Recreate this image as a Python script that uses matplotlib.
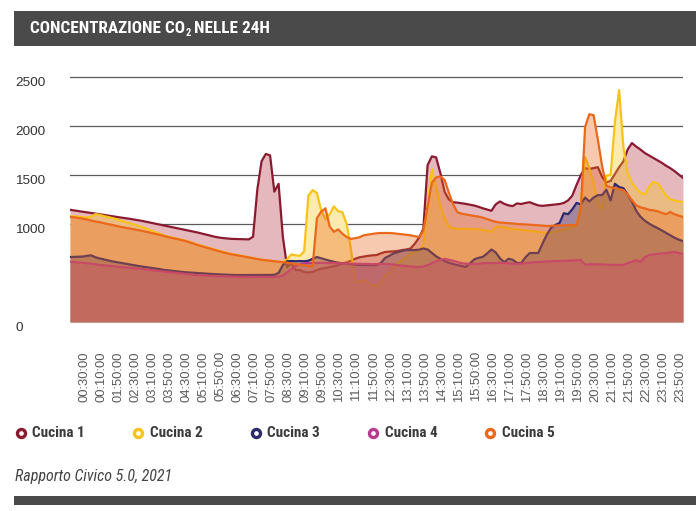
import numpy as np
import matplotlib
matplotlib.use('Agg')
import matplotlib.pyplot as plt
from matplotlib import transforms, font_manager
from matplotlib.font_manager import FontProperties
from matplotlib.lines import Line2D
from matplotlib.patches import Rectangle

plt.rcParams['font.family'] = ['Liberation Sans', 'DejaVu Sans']

# CO2 (ppm), one value every 10 minutes
cucina1 = [
    1145, 1138, 1132, 1125, 1119, 1112, 1106, 1099, 1092, 1086,
    1079, 1072, 1066, 1059, 1053, 1046, 1040, 1031, 1022, 1013,
    1004, 995, 986, 977, 967, 958, 949, 940, 931, 922,
    913, 902, 890, 880, 870, 862, 856, 852, 848, 847,
    845, 845, 843, 870, 1350, 1640, 1715, 1700, 1330, 1410,
    870, 560, 600, 530, 530, 510, 505, 510, 530, 545,
    550, 560, 570, 580, 595, 610, 625, 645, 660, 668,
    675, 680, 683, 700, 714, 718, 720, 725, 734, 740,
    750, 800, 860, 950, 1600, 1690, 1680, 1520, 1330, 1250,
    1222, 1218, 1212, 1205, 1196, 1188, 1175, 1160, 1148, 1135,
    1200, 1230, 1206, 1190, 1183, 1210, 1204, 1215, 1222, 1205,
    1190, 1185, 1190, 1195, 1200, 1204, 1215, 1240, 1290, 1400,
    1500, 1570, 1562, 1570, 1580, 1480, 1425, 1440, 1510, 1580,
    1640, 1760, 1826, 1790, 1760, 1725, 1700, 1675, 1650, 1625,
    1595, 1570, 1540, 1505, 1470]
cucina2 = [
    1081, 1078, 1075, 1070, 1066, 1075, 1101, 1092, 1080, 1071,
    1060, 1048, 1035, 1022, 1008, 995, 982, 968, 952, 935,
    918, 900, 885, 872, 862, 852, 842, 832, 820, 805,
    790, 777, 765, 752, 740, 727, 715, 704, 694, 686,
    678, 670, 662, 652, 643, 636, 630, 625, 620, 616,
    612, 640, 690, 680, 675, 720, 1290, 1346, 1316, 1140,
    1050, 1100, 1180, 1130, 1120, 1000, 740, 410, 410, 425,
    400, 375, 365, 400, 470, 505, 560, 600, 630, 660,
    695, 712, 730, 790, 1200, 1560, 1380, 1180, 1060, 975,
    955, 952, 950, 950, 950, 948, 945, 940, 930, 918,
    970, 975, 962, 955, 949, 945, 940, 935, 930, 925,
    920, 915, 910, 915, 922, 930, 945, 955, 965, 985,
    1200, 1683, 1570, 1400, 1220, 1150, 1495, 1500, 2040, 2366,
    1785, 1520, 1420, 1360, 1320, 1300, 1380, 1428, 1418, 1360,
    1290, 1255, 1240, 1230, 1224]
cucina3 = [
    663, 664, 666, 668, 675, 680, 660, 648, 638, 628,
    618, 610, 602, 595, 588, 580, 572, 566, 559, 552,
    546, 540, 532, 527, 522, 517, 512, 508, 505, 502,
    500, 497, 494, 491, 488, 486, 484, 482, 480, 479,
    479, 478, 478, 478, 478, 478, 479, 480, 482, 500,
    580, 620, 622, 620, 622, 620, 625, 645, 663, 650,
    636, 625, 615, 605, 600, 595, 590, 585, 582, 581,
    580, 580, 581, 600, 653, 675, 700, 712, 725, 734,
    734, 734, 738, 750, 740, 705, 670, 645, 622, 605,
    593, 581, 572, 562, 600, 640, 655, 665, 700, 740,
    710, 650, 610, 645, 635, 602, 602, 660, 704, 704,
    704, 800, 890, 960, 990, 1010, 1110, 1100, 1150, 1215,
    1200, 1270, 1230, 1270, 1295, 1295, 1350, 1240, 1410, 1377,
    1365, 1300, 1230, 1135, 1075, 1035, 1005, 980, 959, 935,
    910, 885, 860, 840, 826]
cucina4 = [
    615, 612, 608, 604, 600, 595, 590, 582, 578, 574,
    570, 566, 562, 558, 554, 550, 546, 541, 536, 530,
    525, 520, 514, 510, 505, 500, 495, 490, 486, 482,
    479, 476, 474, 471, 469, 467, 465, 463, 462, 461,
    460, 460, 460, 460, 460, 460, 460, 460, 460, 462,
    475, 505, 540, 570, 590, 598, 602, 602, 602, 605,
    602, 600, 602, 600, 598, 596, 595, 595, 594, 592,
    592, 590, 592, 593, 592, 590, 586, 580, 575, 570,
    566, 563, 561, 565, 580, 600, 620, 635, 643, 635,
    625, 612, 600, 595, 592, 592, 595, 600, 602, 600,
    602, 604, 602, 600, 596, 592, 596, 600, 605, 610,
    612, 614, 617, 620, 622, 622, 624, 626, 628, 630,
    632, 585, 588, 590, 588, 585, 584, 583, 582, 582,
    583, 600, 615, 630, 612, 660, 683, 690, 695, 698,
    702, 710, 715, 705, 694]
cucina5 = [
    1071, 1068, 1062, 1055, 1045, 1035, 1025, 1018, 1008, 998,
    990, 980, 970, 962, 954, 946, 938, 930, 920, 910,
    900, 890, 878, 867, 858, 848, 838, 828, 815, 800,
    785, 772, 760, 748, 735, 722, 710, 700, 690, 683,
    675, 667, 660, 650, 642, 635, 630, 624, 619, 614,
    610, 605, 598, 592, 585, 580, 572, 568, 1060, 1125,
    1160, 975, 920, 945, 900, 867, 848, 855, 865, 885,
    892, 898, 905, 908, 908, 908, 905, 900, 895, 890,
    885, 875, 868, 930, 1180, 1420, 1475, 1485, 1450, 1320,
    1200, 1120, 1105, 1097, 1090, 1082, 1075, 1065, 1050, 1035,
    1022, 1015, 1012, 1008, 1005, 1000, 998, 995, 993, 990,
    988, 985, 980, 982, 985, 987, 989, 989, 989, 989,
    1150, 1990, 2120, 2110, 1860, 1590, 1390, 1375, 1367, 1355,
    1346, 1300, 1244, 1190, 1170, 1160, 1145, 1140, 1130, 1115,
    1100, 1122, 1100, 1085, 1071]

tick_labels = ['00:30:00', '00:10:00', '01:50:00', '02:30:00', '03:10:00',
               '03:50:00', '04:30:00', '05:10:00', '05:50:00', '06:30:00',
               '07:10:00', '07:50:00', '08:30:00', '09:10:00', '09:50:00',
               '10:30:00', '11:10:00', '11:50:00', '12:30:00', '13:10:00',
               '13:50:00', '14:30:00', '15:10:00', '15:50:00', '16:30:00',
               '17:10:00', '17:50:00', '18:30:00', '19:10:00', '19:50:00',
               '20:30:00', '21:10:00', '21:50:00', '22:30:00', '23:10:00',
               '23:50:00']
y_labels = [0, 1000, 1500, 2000, 2500]
names = ['Cucina 1', 'Cucina 2', 'Cucina 3', 'Cucina 4', 'Cucina 5']
colors = ['#8a1a30', '#f7c31a', '#2c2a6c', '#b63a8e', '#ea681c']
fill_colors = ['#ac1626', '#f7c31a', '#2c2a6c', '#b63a8e', '#ea681c']


# look for a narrow/condensed face, like the report's condensed sans
def weight_num(w):
    if isinstance(w, (int, float)):
        return w
    return {'bold': 700, 'heavy': 800, 'black': 900, 'semibold': 600,
            'demibold': 600, 'extra bold': 800}.get(str(w).lower(), 400)


def narrow_font(bold, italic):
    found = []
    for f in font_manager.fontManager.ttflist:
        key = (f.name + ' ' + f.fname).lower()
        st = f.stretch
        cond = 'narrow' in key or 'condensed' in key or \
            (isinstance(st, str) and 'condensed' in st) or \
            (isinstance(st, (int, float)) and st < 500)
        if not cond:
            continue
        if (weight_num(f.weight) >= 600) != bold:
            continue
        if (f.style in ('italic', 'oblique')) != italic:
            continue
        rank = 0 if 'liberation' in key else (1 if 'roboto' in key else 2)
        found.append((rank, f.fname))
    found.sort()
    return found[0][1] if found else None


def font(size, bold=False, italic=False, shrink=0.84):
    path = narrow_font(bold, italic)
    if path:
        return FontProperties(fname=path, size=size)
    return FontProperties(family='Liberation Sans', size=size * shrink,
                          weight='bold' if bold else 'normal',
                          style='italic' if italic else 'normal')


W, H = 696, 511
fig = plt.figure(figsize=(W / 100, H / 100), dpi=100)
ax = fig.add_axes([70 / W, 1 - 322 / H, 613 / W, 252 / H])

series = [cucina1, cucina2, cucina3, cucina4, cucina5]
x = np.arange(len(cucina1))

# grid behind the areas
for v in y_labels[1:]:
    ax.axhline(v, color='#5a5a5a', lw=0.9, zorder=0.5)
ax.fill_between(x, 0, np.max(series, axis=0), color='white', lw=0, zorder=1)
for vals, c, fc in zip(series, colors, fill_colors):
    ax.fill_between(x, 0, vals, color=fc, alpha=0.3 if fc != c else 0.35, lw=0, zorder=2)
    ax.plot(x, vals, color=c, lw=1.6, zorder=2)
ax.axhline(0, color='#8a8a8a', lw=1, zorder=3)

ax.set_xlim(0, len(x) - 1)
ax.set_ylim(0, 252 / 0.098)
for s in ax.spines.values():
    s.set_visible(False)
ax.set_yticks([])
ax.set_xticks(x[3::4] + 0.3)
ax.set_xticklabels(tick_labels, rotation=90, fontsize=9.4, color='#5a5a5a')
ax.tick_params(axis='x', length=0, pad=21)

ytrans = transforms.blended_transform_factory(fig.transFigure, ax.transData) + \
    transforms.ScaledTranslation(0, -0.06, fig.dpi_scale_trans)
for v in y_labels:
    fig.text(15 / W, v, str(v), transform=ytrans, ha='left', va='center',
             fontsize=9.7, color='#333333')

# title bar
fig.add_artist(Rectangle((14 / W, 1 - 45.7 / H), (W - 14) / W, 34.7 / H,
                         transform=fig.transFigure, color='#4a4a4a', lw=0))
renderer = fig.canvas.get_renderer()
tfont = font(12.3, bold=True, shrink=0.82)
sfont = font(7.5, bold=True, shrink=0.82)
t1 = fig.text(30 / W, 1 - 28.5 / H, 'CONCENTRAZIONE CO', color='white',
              fontproperties=tfont, va='center')
bb = t1.get_window_extent(renderer)
t2 = fig.text(bb.x1 / W + 0.5 / W, 1 - 33.5 / H, '2', color='white',
              fontproperties=sfont, va='center')
bb = t2.get_window_extent(renderer)
fig.text(bb.x1 / W + 3.5 / W, 1 - 28.5 / H, 'NELLE 24H', color='white',
         fontproperties=tfont, va='center')

# legend
lfont = font(11, bold=True, shrink=0.85)
for k, (name, c) in enumerate(zip(names, colors)):
    xm = 20.8 + 117.4 * k
    fig.add_artist(Line2D([xm / W], [1 - 433 / H], transform=fig.transFigure,
                          marker='o', ms=5.8, mfc='white', mec=c, mew=2.4, ls='none'))
    fig.text((xm + 11.5) / W, 1 - 433 / H, name, fontproperties=lfont,
             color='#3a3a3a', va='center')

fig.text(15 / W, 1 - 476 / H, 'Rapporto Civico 5.0, 2021',
         fontproperties=font(11.5, italic=True, shrink=0.85),
         color='#444444', va='center')
fig.add_artist(Rectangle((14 / W, 1 - 505 / H), (W - 14) / W, 9 / H,
                         transform=fig.transFigure, color='#4a4a4a', lw=0))

fig.savefig('out.png', dpi=100)
